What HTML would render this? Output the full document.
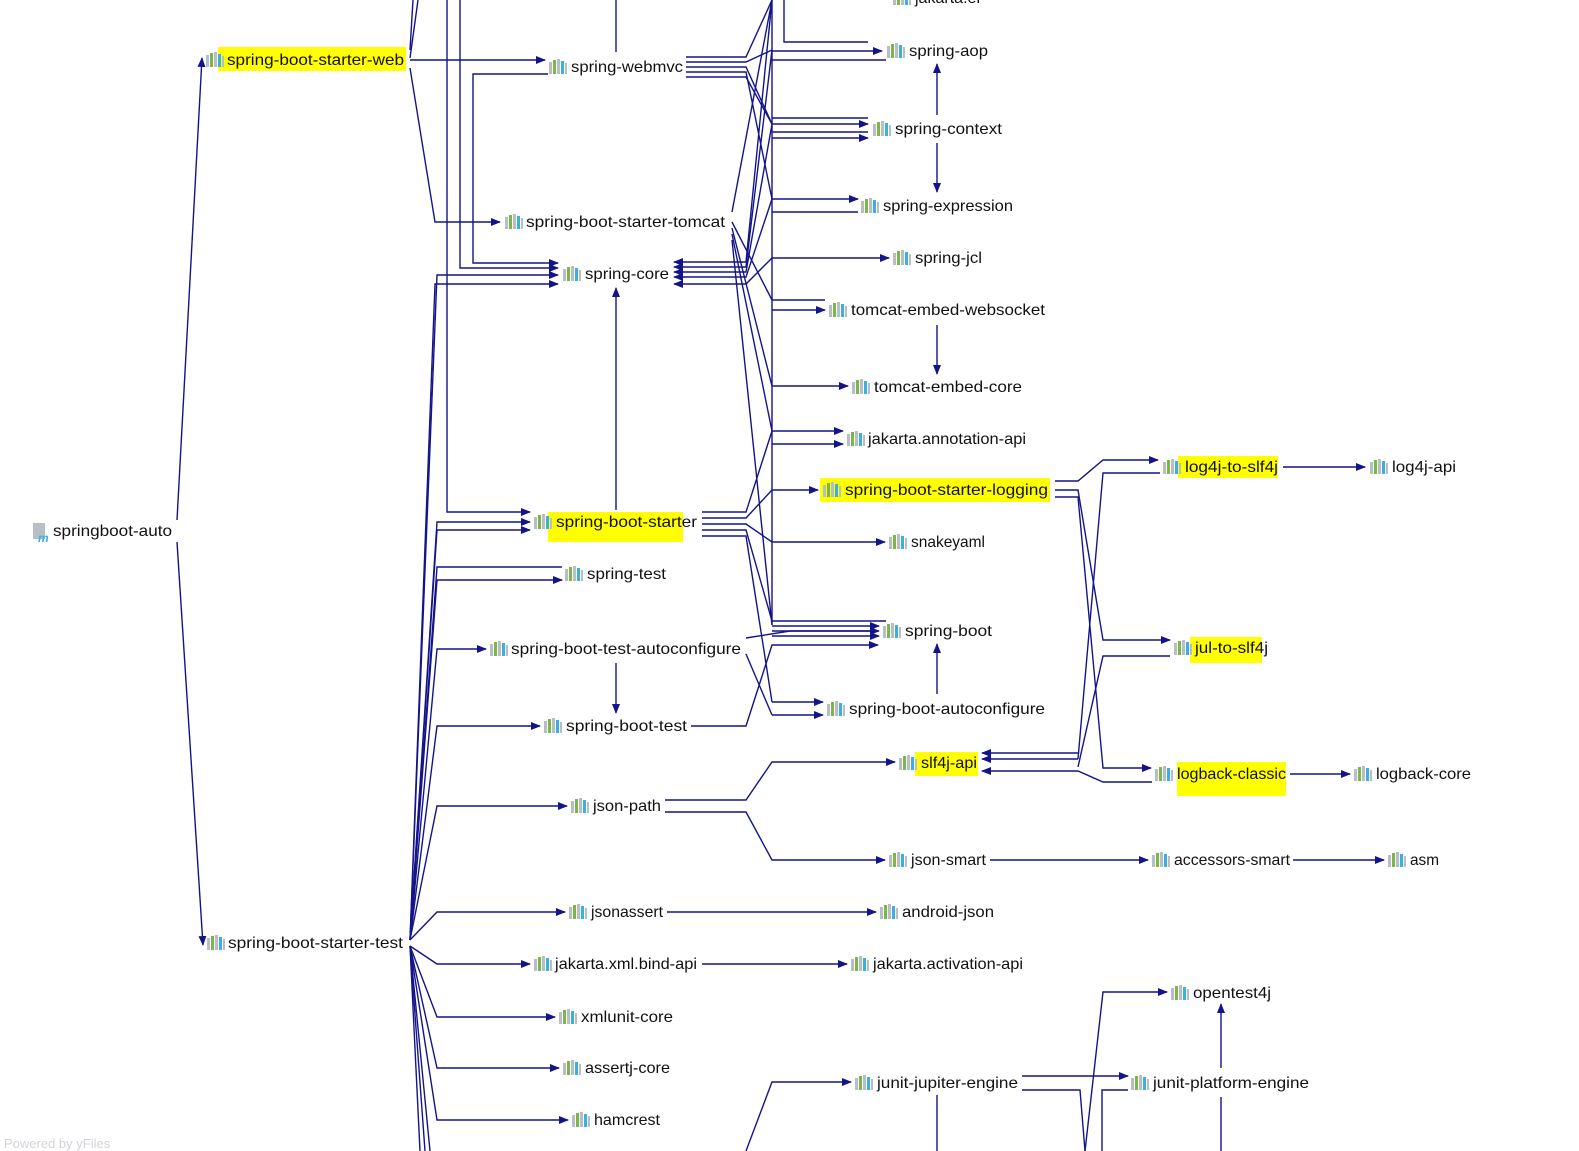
<!DOCTYPE html>
<html><head><meta charset="utf-8"><style>
html,body{margin:0;padding:0;background:#fff;width:1579px;height:1151px;overflow:hidden}
svg{display:block}
text{font-family:"Liberation Sans","DejaVu Sans",sans-serif;font-size:16px;fill:#111}
</style></head><body>
<svg width="1579" height="1151" viewBox="0 0 1579 1151" xmlns="http://www.w3.org/2000/svg">
<defs>
<marker id="a" markerWidth="10" markerHeight="8" refX="9" refY="4" orient="auto" markerUnits="userSpaceOnUse"><path d="M0,0 L10,4 L0,8 z" fill="#14148a"/></marker>
<g id="ic"><rect x="0" y="3" width="3" height="12" fill="#b8bec6"/><rect x="4" y="1" width="3" height="14" fill="#7ab648"/><rect x="8" y="0" width="3" height="15" fill="#b8bec6"/><rect x="12" y="2" width="3" height="13" fill="#3ab0e2"/><rect x="16" y="4" width="2" height="11" fill="#b8bec6"/></g>
</defs>
<!-- highlights -->
<g fill="#ffff00">
<rect x="218" y="47" width="188" height="24"/>
<rect x="548" y="512" width="135" height="30"/>
<rect x="820" y="478" width="230" height="24"/>
<rect x="1178" y="456" width="100" height="22"/>
<rect x="1190" y="637" width="72" height="26"/>
<rect x="915" y="752" width="63" height="24"/>
<rect x="1177" y="762" width="109" height="34"/>
</g>
<g fill="none" stroke="#14148a" stroke-width="1.4">
<!-- root -->
<polyline points="177,520 202,58" marker-end="url(#a)"/>
<polyline points="177,542 203,945" marker-end="url(#a)"/>
<!-- starter-web -->
<polyline points="410,60 545,60" marker-end="url(#a)"/>
<polyline points="410,68 435,222 500,222" marker-end="url(#a)"/>
<polyline points="410,58 418,0"/>
<polyline points="410,50 413,0"/>
<polyline points="460,0 460,268 558,268" marker-end="url(#a)"/>
<polyline points="447,0 447,512 530,512" marker-end="url(#a)"/>
<polyline points="548,74 473,74 473,263 558,263" marker-end="url(#a)"/>
<polyline points="616,0 616,52"/>
<!-- starter-test fan -->
<polyline points="410,940 437,275 558,275" marker-end="url(#a)"/>
<polyline points="410,940 435,284 558,284" marker-end="url(#a)"/>
<polyline points="410,940 437,522 530,522" marker-end="url(#a)"/>
<polyline points="410,940 437,530 530,530" marker-end="url(#a)"/>
<polyline points="410,940 437,567 562,567"/>
<polyline points="410,940 437,580 562,580" marker-end="url(#a)"/>
<polyline points="410,940 437,649 486,649" marker-end="url(#a)"/>
<polyline points="410,940 437,726 540,726" marker-end="url(#a)"/>
<polyline points="410,940 437,806 567,806" marker-end="url(#a)"/>
<polyline points="410,940 437,912 565,912" marker-end="url(#a)"/>
<polyline points="410,946 437,964 530,964" marker-end="url(#a)"/>
<polyline points="410,946 437,1017 555,1017" marker-end="url(#a)"/>
<polyline points="410,946 437,1068 559,1068" marker-end="url(#a)"/>
<polyline points="410,946 437,1120 568,1120" marker-end="url(#a)"/>
<polyline points="410,946 420,1151"/><polyline points="410,946 425,1151"/><polyline points="410,946 430,1151"/>
<!-- verticals -->
<polyline points="616,510 616,288" marker-end="url(#a)"/>
<polyline points="616,663 616,713" marker-end="url(#a)"/>
<polyline points="937,115 937,64" marker-end="url(#a)"/>
<polyline points="937,143 937,192" marker-end="url(#a)"/>
<polyline points="937,325 937,374" marker-end="url(#a)"/>
<polyline points="937,694 937,644" marker-end="url(#a)"/>
<polyline points="937,1095 937,1151"/>
<polyline points="1221,1068 1221,1004" marker-end="url(#a)"/>
<polyline points="1221,1097 1221,1151"/>
<!-- main column -->
<polyline points="772,0 772,625"/>
<polyline points="784,0 784,42 868,42"/>
<polyline points="772,51 882,51" marker-end="url(#a)"/>
<polyline points="772,60 886,60"/>
<polyline points="772,118 868,118"/><polyline points="772,124 868,124" marker-end="url(#a)"/><polyline points="772,132 868,132"/><polyline points="772,138 868,138" marker-end="url(#a)"/>
<polyline points="772,199 858,199" marker-end="url(#a)"/><polyline points="772,212 858,212"/>
<polyline points="772,258 889,258" marker-end="url(#a)"/>
<polyline points="772,300 825,300"/><polyline points="772,310 825,310" marker-end="url(#a)"/>
<polyline points="772,386 848,386" marker-end="url(#a)"/>
<polyline points="772,431 843,431" marker-end="url(#a)"/><polyline points="772,444 843,444" marker-end="url(#a)"/>
<polyline points="772,490 818,490" marker-end="url(#a)"/>
<polyline points="772,542 885,542" marker-end="url(#a)"/>
<polyline points="772,621 886,621"/><polyline points="772,626 879,626" marker-end="url(#a)"/><polyline points="772,631 879,631" marker-end="url(#a)"/><polyline points="772,636 879,636" marker-end="url(#a)"/>
<polyline points="772,702 823,702" marker-end="url(#a)"/><polyline points="772,715 823,715" marker-end="url(#a)"/>
<!-- webmvc right -->
<polyline points="686,57 746,57 772,0"/>
<polyline points="686,62 746,62 772,50"/>
<polyline points="686,67 746,67 772,124"/>
<polyline points="686,72 746,72 772,199"/>
<polyline points="686,77 746,77 772,124"/>
<!-- tomcat right -->
<polyline points="732,212 772,0"/>
<polyline points="732,222 772,300"/>
<polyline points="732,228 772,386"/>
<polyline points="732,234 772,431"/>
<polyline points="732,240 772,625"/>
<!-- spring-core incoming -->
<polyline points="746,262 772,0 746,262 674,262" marker-end="url(#a)"/>
<polyline points="746,267 772,50 746,267 674,267" marker-end="url(#a)"/>
<polyline points="746,272 772,124 746,272 674,272" marker-end="url(#a)"/>
<polyline points="746,277 772,199 746,277 674,277" marker-end="url(#a)"/>
<polyline points="746,284 772,258 746,284 674,284" marker-end="url(#a)"/>
<!-- starter right -->
<polyline points="702,512 746,512 772,431"/>
<polyline points="702,518 746,518 772,490"/>
<polyline points="702,524 746,524 772,542"/>
<polyline points="702,530 746,530 772,621"/>
<polyline points="702,536 746,536 772,702"/>
<!-- test-autoconfigure / boot-test -->
<polyline points="746,638 790,631 878,631"/>
<polyline points="746,654 772,715"/>
<polyline points="691,726 746,726 772,645 878,645" marker-end="url(#a)"/>
<!-- json-path -->
<polyline points="665,800 746,800 772,762 895,762" marker-end="url(#a)"/>
<polyline points="665,812 746,812 772,860 885,860" marker-end="url(#a)"/>
<polyline points="990,860 1148,860" marker-end="url(#a)"/>
<polyline points="1293,860 1384,860" marker-end="url(#a)"/>
<polyline points="667,912 876,912" marker-end="url(#a)"/>
<polyline points="702,964 847,964" marker-end="url(#a)"/>
<!-- logging -->
<polyline points="1055,481 1078,481 1103,460 1158,460" marker-end="url(#a)"/>
<polyline points="1055,490 1078,490 1103,640 1170,640" marker-end="url(#a)"/>
<polyline points="1055,497 1078,497 1103,768 1151,768" marker-end="url(#a)"/>
<polyline points="1160,473 1103,473 1078,759"/>
<polyline points="1170,656 1103,656 1078,767"/>
<polyline points="1078,753 982,753" marker-end="url(#a)"/>
<polyline points="1078,759 982,759" marker-end="url(#a)"/>
<polyline points="1152,782 1103,782 1078,771 982,771" marker-end="url(#a)"/>
<polyline points="1283,467 1365,467" marker-end="url(#a)"/>
<polyline points="1290,774 1350,774" marker-end="url(#a)"/>
<!-- junit -->
<polyline points="746,1151 772,1082 851,1082" marker-end="url(#a)"/>
<polyline points="1022,1076 1128,1076" marker-end="url(#a)"/>
<polyline points="1022,1090 1080,1090 1085,1151"/>
<polyline points="1128,1090 1102,1090 1102,1151"/>
<polyline points="1085,1151 1103,992 1167,992" marker-end="url(#a)"/>
</g>
<!-- icons -->
<g>
<use href="#ic" x="206" y="52"/><use href="#ic" x="549" y="59"/><use href="#ic" x="505" y="214"/><use href="#ic" x="563" y="266"/>
<use href="#ic" x="534" y="514"/><use href="#ic" x="565" y="566"/><use href="#ic" x="490" y="641"/><use href="#ic" x="544" y="718"/>
<use href="#ic" x="571" y="798"/><use href="#ic" x="207" y="935"/><use href="#ic" x="569" y="904"/><use href="#ic" x="534" y="956"/>
<use href="#ic" x="559" y="1009"/><use href="#ic" x="563" y="1060"/><use href="#ic" x="572" y="1112"/>
<use href="#ic" x="893" y="-10"/><use href="#ic" x="887" y="43"/><use href="#ic" x="873" y="121"/><use href="#ic" x="861" y="198"/>
<use href="#ic" x="893" y="250"/><use href="#ic" x="829" y="302"/><use href="#ic" x="852" y="379"/><use href="#ic" x="847" y="431"/>
<use href="#ic" x="823" y="482"/><use href="#ic" x="889" y="534"/><use href="#ic" x="883" y="623"/><use href="#ic" x="827" y="701"/>
<use href="#ic" x="899" y="755"/><use href="#ic" x="889" y="852"/><use href="#ic" x="880" y="904"/><use href="#ic" x="851" y="956"/>
<use href="#ic" x="855" y="1075"/><use href="#ic" x="1163" y="459"/><use href="#ic" x="1370" y="459"/><use href="#ic" x="1174" y="640"/>
<use href="#ic" x="1155" y="766"/><use href="#ic" x="1354" y="766"/><use href="#ic" x="1152" y="852"/><use href="#ic" x="1388" y="852"/>
<use href="#ic" x="1171" y="985"/><use href="#ic" x="1131" y="1075"/>
</g>
<!-- root icon -->
<rect x="33" y="523" width="12" height="16" fill="#b8bec6"/>
<text x="38" y="542" style="font-size:12px;font-style:italic;font-weight:bold;fill:#3ab0e2">m</text>
<!-- labels -->
<g>
<text x="53" y="536" textLength="119" lengthAdjust="spacingAndGlyphs">springboot-auto</text>
<text x="227" y="65" textLength="177" lengthAdjust="spacingAndGlyphs">spring-boot-starter-web</text>
<text x="571" y="72" textLength="112" lengthAdjust="spacingAndGlyphs">spring-webmvc</text>
<text x="526" y="227" textLength="199" lengthAdjust="spacingAndGlyphs">spring-boot-starter-tomcat</text>
<text x="585" y="279" textLength="84" lengthAdjust="spacingAndGlyphs">spring-core</text>
<text x="556" y="527" textLength="141" lengthAdjust="spacingAndGlyphs">spring-boot-starter</text>
<text x="587" y="579" textLength="79" lengthAdjust="spacingAndGlyphs">spring-test</text>
<text x="511" y="654" textLength="230" lengthAdjust="spacingAndGlyphs">spring-boot-test-autoconfigure</text>
<text x="566" y="731" textLength="121" lengthAdjust="spacingAndGlyphs">spring-boot-test</text>
<text x="593" y="811" textLength="68" lengthAdjust="spacingAndGlyphs">json-path</text>
<text x="228" y="948" textLength="175" lengthAdjust="spacingAndGlyphs">spring-boot-starter-test</text>
<text x="591" y="917" textLength="72" lengthAdjust="spacingAndGlyphs">jsonassert</text>
<text x="555" y="969" textLength="142" lengthAdjust="spacingAndGlyphs">jakarta.xml.bind-api</text>
<text x="581" y="1022" textLength="92" lengthAdjust="spacingAndGlyphs">xmlunit-core</text>
<text x="585" y="1073" textLength="85" lengthAdjust="spacingAndGlyphs">assertj-core</text>
<text x="594" y="1125" textLength="66" lengthAdjust="spacingAndGlyphs">hamcrest</text>
<text x="915" y="3" textLength="65" lengthAdjust="spacingAndGlyphs">jakarta.el</text>
<text x="909" y="56" textLength="79" lengthAdjust="spacingAndGlyphs">spring-aop</text>
<text x="895" y="134" textLength="107" lengthAdjust="spacingAndGlyphs">spring-context</text>
<text x="883" y="211" textLength="130" lengthAdjust="spacingAndGlyphs">spring-expression</text>
<text x="915" y="263" textLength="67" lengthAdjust="spacingAndGlyphs">spring-jcl</text>
<text x="851" y="315" textLength="194" lengthAdjust="spacingAndGlyphs">tomcat-embed-websocket</text>
<text x="874" y="392" textLength="148" lengthAdjust="spacingAndGlyphs">tomcat-embed-core</text>
<text x="868" y="444" textLength="158" lengthAdjust="spacingAndGlyphs">jakarta.annotation-api</text>
<text x="845" y="495" textLength="203" lengthAdjust="spacingAndGlyphs">spring-boot-starter-logging</text>
<text x="911" y="547" textLength="74" lengthAdjust="spacingAndGlyphs">snakeyaml</text>
<text x="905" y="636" textLength="87" lengthAdjust="spacingAndGlyphs">spring-boot</text>
<text x="849" y="714" textLength="196" lengthAdjust="spacingAndGlyphs">spring-boot-autoconfigure</text>
<text x="921" y="768" textLength="56" lengthAdjust="spacingAndGlyphs">slf4j-api</text>
<text x="911" y="865" textLength="75" lengthAdjust="spacingAndGlyphs">json-smart</text>
<text x="902" y="917" textLength="92" lengthAdjust="spacingAndGlyphs">android-json</text>
<text x="873" y="969" textLength="150" lengthAdjust="spacingAndGlyphs">jakarta.activation-api</text>
<text x="877" y="1088" textLength="141" lengthAdjust="spacingAndGlyphs">junit-jupiter-engine</text>
<text x="1185" y="472" textLength="93" lengthAdjust="spacingAndGlyphs">log4j-to-slf4j</text>
<text x="1392" y="472" textLength="64" lengthAdjust="spacingAndGlyphs">log4j-api</text>
<text x="1195" y="653" textLength="73" lengthAdjust="spacingAndGlyphs">jul-to-slf4j</text>
<text x="1177" y="779" textLength="109" lengthAdjust="spacingAndGlyphs">logback-classic</text>
<text x="1376" y="779" textLength="95" lengthAdjust="spacingAndGlyphs">logback-core</text>
<text x="1174" y="865" textLength="116" lengthAdjust="spacingAndGlyphs">accessors-smart</text>
<text x="1410" y="865" textLength="29" lengthAdjust="spacingAndGlyphs">asm</text>
<text x="1193" y="998" textLength="78" lengthAdjust="spacingAndGlyphs">opentest4j</text>
<text x="1153" y="1088" textLength="156" lengthAdjust="spacingAndGlyphs">junit-platform-engine</text>
<text x="4" y="1148" style="font-size:13px;fill:#d0d4d8">Powered by yFiles</text>
</g>
</svg>
</body></html>
